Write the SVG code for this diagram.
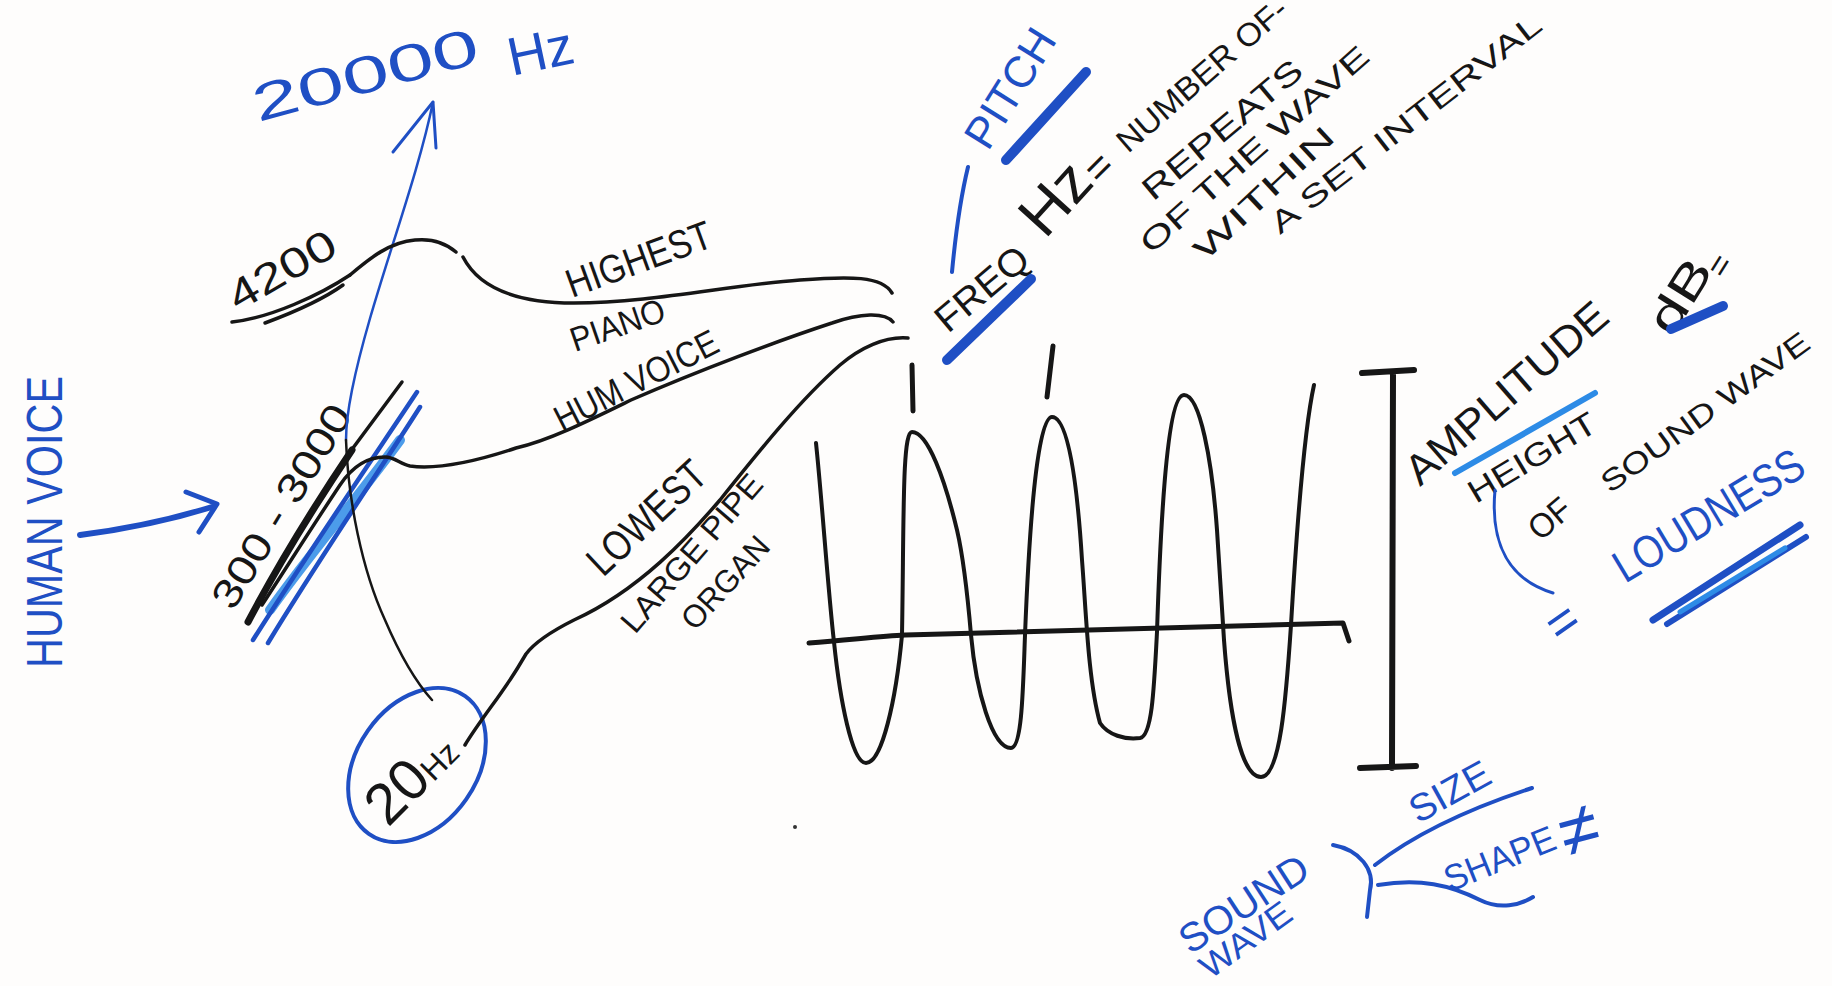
<svg xmlns="http://www.w3.org/2000/svg" width="1832" height="986" viewBox="0 0 1832 986">
<style>
.t{font-family:'Liberation Sans',Arial,sans-serif;}
.tk{fill:#161616;}
.tb{fill:#1f4fc4;}
.k{stroke:#161616;fill:none;stroke-linecap:round;stroke-linejoin:round;}
.b{stroke:#1f4fc4;fill:none;stroke-linecap:round;stroke-linejoin:round;}
.lb{stroke:#2d8be6;fill:none;stroke-linecap:round;}
</style>
<rect width="1832" height="986" fill="#fefdfc"/>

<g id="max-freq">
<text class="t tb" transform="translate(258,122) rotate(-15)" font-size="52" textLength="232" lengthAdjust="spacingAndGlyphs">20000</text>
<text class="t tb" transform="translate(512,76) rotate(-12)" font-size="54" textLength="66" lengthAdjust="spacingAndGlyphs">Hz</text>
</g>

<g id="human-voice">
<text class="t tb" transform="translate(62,668) rotate(-90)" font-size="50" textLength="292" lengthAdjust="spacingAndGlyphs">HUMAN VOICE</text>
</g>

<g id="voice-range">
<path class="k" d="M402,382 L350,452" stroke-width="3.5"/>
<path class="k" d="M352,450 C315,505 278,565 248,622" stroke-width="7" stroke="#2a1f18"/>
<path class="lb" d="M400,440 C360,495 305,560 270,610" stroke-width="10" opacity="0.85"/>
<path class="b" d="M417,392 C375,455 310,550 253,640" stroke-width="4.5" stroke="#1a5fd6"/>
<path class="b" d="M420,407 C380,470 315,565 268,643" stroke-width="4.5" stroke="#1a5fd6"/>
<text class="t tk" transform="translate(233,612) rotate(-58.6)" font-size="40" textLength="231" lengthAdjust="spacingAndGlyphs">300 - 3000</text>
</g>

<g id="piano-high">
<text class="t tk" transform="translate(238,312) rotate(-30)" font-size="42" textLength="118" lengthAdjust="spacingAndGlyphs">4200</text>
<path class="k" d="M232,322 C270,318 320,295 350,275" stroke-width="3.5"/>
<path class="k" d="M265,323 C300,310 325,298 343,285" stroke-width="3.5"/>
</g>

<g id="low-20hz">
<ellipse cx="417" cy="765" rx="60" ry="84" transform="rotate(35 417 765)" fill="none" stroke="#1f4fc4" stroke-width="4"/>
<text class="t tk" transform="translate(388,828) rotate(-45)"><tspan font-size="58">20</tspan><tspan font-size="32">Hz</tspan></text>
</g>

<g id="labels-instruments">
<text class="t tk" transform="translate(572,298) rotate(-20)" font-size="40" textLength="152" lengthAdjust="spacingAndGlyphs">HIGHEST</text>
<text class="t tk" transform="translate(575,352) rotate(-19)" font-size="34" textLength="98" lengthAdjust="spacingAndGlyphs">PIANO</text>
<text class="t tk" transform="translate(562,432) rotate(-27)" font-size="36" textLength="179" lengthAdjust="spacingAndGlyphs">HUM VOICE</text>
<text class="t tk" transform="translate(603,578) rotate(-43)" font-size="42" textLength="146" lengthAdjust="spacingAndGlyphs">LOWEST</text>
<text class="t tk" transform="translate(635,635) rotate(-49)" font-size="32" textLength="198" lengthAdjust="spacingAndGlyphs">LARGE PIPE</text>
<text class="t tk" transform="translate(695,632) rotate(-47.5)" font-size="32" textLength="114" lengthAdjust="spacingAndGlyphs">ORGAN</text>
</g>

<g id="freq">
<text class="t tk" transform="translate(948,334) rotate(-40)" font-size="38" textLength="110" lengthAdjust="spacingAndGlyphs">FREQ</text>
<path class="b" d="M947,360 L1031,279" stroke-width="10"/>
<text class="t tk" transform="translate(1045,240) rotate(-48)" font-size="60" textLength="76" lengthAdjust="spacingAndGlyphs">Hz</text>
<text class="t tk" transform="translate(1100,186) rotate(-45)" font-size="42">=</text>
<text class="t tk" transform="translate(1128,154) rotate(-41)" font-size="32" textLength="215" lengthAdjust="spacingAndGlyphs">NUMBER OF-</text>
<text class="t tk" transform="translate(1153,202) rotate(-40)" font-size="32" textLength="199" lengthAdjust="spacingAndGlyphs">REPEATS</text>
<text class="t tk" transform="translate(1151,255) rotate(-41.6)" font-size="30" textLength="295" lengthAdjust="spacingAndGlyphs">OF THE WAVE</text>
<text class="t tk" transform="translate(1205,262) rotate(-43)" font-size="30" textLength="180" lengthAdjust="spacingAndGlyphs">WITHIN</text>
<text class="t tk" transform="translate(1280,235) rotate(-38)" font-size="30" textLength="335" lengthAdjust="spacingAndGlyphs">A SET INTERVAL</text>
</g>

<g id="pitch">
<text class="t tb" transform="translate(988,152) rotate(-58)" font-size="44" textLength="132" lengthAdjust="spacingAndGlyphs">PITCH</text>
<path class="b" d="M1006,160 L1086,72" stroke-width="10"/>
</g>

<g id="sound-wave-graph">
<path class="k" d="M809,643 C850,640 880,636 905,635 L1343,623 L1349,641" stroke-width="5"/>
<path class="k" d="M816,443 C822,500 828,590 834,642 C840,700 852,763 866,763 C882,763 896,700 902,635 C904,520 902,432 912,432 C928,432 945,480 957,530 C964,560 968,600 971,635 C976,690 992,748 1011,748 C1022,748 1023,690 1025,635 C1028,560 1035,417 1052,417 C1068,417 1077,480 1082,560 C1086,610 1088,680 1100,723 C1108,735 1125,740 1140,738 C1152,736 1154,690 1157,632 C1160,540 1166,395 1184,395 C1200,395 1212,460 1217,530 C1220,580 1222,610 1224,640 C1230,720 1242,777 1261,777 C1280,777 1286,700 1291,625 C1296,540 1304,430 1314,385" stroke-width="4"/>
<path class="k" d="M912,365 L913,411 M1053,346 L1047,397" stroke-width="5"/>
<circle cx="795" cy="827" r="2" fill="#333"/>
</g>

<g id="amplitude-bar">
<path class="k" d="M1393,372 L1392,768 M1362,373 L1414,370 M1360,768 L1416,766" stroke-width="6"/>
</g>

<g id="amplitude">
<text class="t tk" transform="translate(1420,487) rotate(-41)" font-size="42" textLength="254" lengthAdjust="spacingAndGlyphs">AMPLITUDE</text>
<path class="lb" d="M1455,473 L1595,393" stroke-width="6"/>
<text class="t tk" transform="translate(1672,338) rotate(-58)" font-size="46" textLength="80" lengthAdjust="spacingAndGlyphs">dB</text>
<path class="b" d="M1671,329 L1723,306" stroke-width="10"/>
<text class="t tk" transform="translate(1724,280) rotate(-58)" font-size="34">=</text>
<text class="t tk" transform="translate(1476,504) rotate(-31)" font-size="32" textLength="144" lengthAdjust="spacingAndGlyphs">HEIGHT</text>
<text class="t tk" transform="translate(1540,542) rotate(-40)" font-size="34" textLength="45" lengthAdjust="spacingAndGlyphs">OF</text>
<text class="t tk" transform="translate(1610,494) rotate(-36)" font-size="30" textLength="250" lengthAdjust="spacingAndGlyphs">SOUND WAVE</text>
</g>

<g id="loudness">
<text class="t tb" transform="translate(1560,645) rotate(-35)" font-size="52">=</text>
<text class="t tb" transform="translate(1625,584) rotate(-31)" font-size="46" textLength="214" lengthAdjust="spacingAndGlyphs">LOUDNESS</text>
<path class="b" d="M1653,620 L1800,525" stroke-width="7"/>
<path class="b" d="M1667,624 L1806,537" stroke-width="6"/>
<path class="lb" d="M1680,612 L1785,548" stroke-width="5"/>
</g>

<g id="sound-wave-props">
<text class="t tb" transform="translate(1190,955) rotate(-33)" font-size="40" textLength="146" lengthAdjust="spacingAndGlyphs">SOUND</text>
<text class="t tb" transform="translate(1210,980) rotate(-36)" font-size="34" textLength="105" lengthAdjust="spacingAndGlyphs">WAVE</text>
<path class="b" d="M1333,845 C1360,850 1375,870 1370,890 L1367,917" stroke-width="4"/>
<text class="t tb" transform="translate(1418,824) rotate(-29)" font-size="38" textLength="87" lengthAdjust="spacingAndGlyphs">SIZE</text>
<text class="t tb" transform="translate(1450,892) rotate(-22)" font-size="36" textLength="117" lengthAdjust="spacingAndGlyphs">SHAPE</text>
<text class="t tb" transform="translate(1566,858) rotate(-15)" font-size="72">≠</text>
</g>

<g id="connectors">
<path class="b" d="M433,102 C415,190 370,300 352,390 C348,410 346,425 346,440" stroke-width="2.5"/>
<path class="b" d="M393,152 L433,102 L436,148" stroke-width="3"/>
<path class="k" d="M346,440 C348,500 362,570 385,620 C400,655 414,680 432,700" stroke-width="2.5" stroke="#1a2a60"/>
<path class="b" d="M80,535 C120,530 170,520 212,507" stroke-width="6"/>
<path class="b" d="M186,492 L217,504 L199,532" stroke-width="5"/>
<path class="k" d="M350,275 C370,258 390,242 415,240 C435,238 448,245 456,252" stroke-width="3.5"/>
<path class="k" d="M463,257 C480,290 520,303 574,303 C650,303 730,285 800,280 C850,276 882,276 892,293" stroke-width="3.5"/>
<path class="k" d="M893,322 C885,312 860,313 832,323 C780,340 700,370 631,400 C590,420 550,440 516,448 C480,460 440,470 410,466 C400,464 395,457 385,457 C365,457 350,470 340,485 C310,530 285,570 262,605" stroke-width="3.5"/>
<path class="k" d="M908,338 C885,336 860,348 840,365 C800,400 760,450 720,500 C690,535 640,590 574,620 C550,632 535,642 526,654 L520,664 C505,690 480,720 465,745" stroke-width="3.5"/>
<path class="b" d="M968,167 C960,200 955,240 952,272" stroke-width="4"/>
<path class="b" d="M1495,490 C1490,545 1510,580 1553,593" stroke-width="3" stroke="#1b2f7a"/>
<path class="b" d="M1375,865 C1420,830 1480,805 1532,788" stroke-width="4"/>
<path class="b" d="M1378,885 C1420,878 1450,885 1480,900 C1500,910 1520,905 1533,897" stroke-width="4"/>
</g>
</svg>
